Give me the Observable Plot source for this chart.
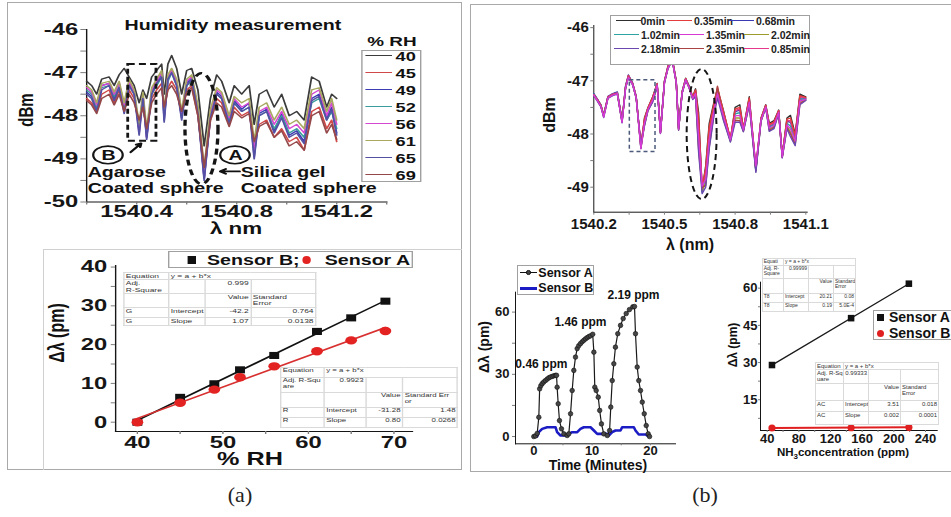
<!DOCTYPE html>
<html><head><meta charset="utf-8">
<script src="https://cdn.jsdelivr.net/npm/d3@7"></script>
<script src="https://cdn.jsdelivr.net/npm/@observablehq/plot@0.6"></script>
<style>
html,body{margin:0;padding:0;background:#fff;}
body{width:951px;height:517px;overflow:hidden;position:relative;font-family:"Liberation Sans",Arial,sans-serif;}
#root{position:absolute;left:0;top:0;width:951px;height:517px;overflow:hidden;}
.st{position:absolute;transform:scaleX(1.4);transform-origin:0 0;}
svg [aria-label$="axis tick"] path, svg [aria-label$="axis line"] line, svg [aria-label$="-axis"] .tick line, svg [aria-label$="-axis"] path.domain {stroke:#7c7c7c;}
.tbl{position:absolute;border-collapse:collapse;table-layout:fixed;background:#fff;font-family:"Liberation Sans",Arial,sans-serif;color:#333;border:0.8px solid #c4c4c4;}
.tbl td{border:0.6px solid #dadada;padding:0 1px;line-height:1.05;vertical-align:top;overflow:hidden;white-space:nowrap;}
.tbl td.r{text-align:right;}
</style></head><body>
<div id="root"></div>
<script>
// ================= DATA =================
// (a) top: humidity spectra
const rhLevels = ["40","45","49","52","56","61","65","69"];
const rhColors = ["#3c3c3c","#d04848","#3c3cb4","#3a9c9c","#d448d4","#a8a860","#5450a4","#94484a"];
const wlA = [1540.20,1540.22,1540.24,1540.26,1540.29,1540.31,1540.33,1540.35,1540.37,1540.39,1540.41,1540.425,1540.44,1540.46,1540.48,1540.50,1540.51,1540.525,1540.54,1540.56,1540.58,1540.60,1540.62,1540.645,1540.67,1540.695,1540.72,1540.74,1540.77,1540.79,1540.82,1540.85,1540.87,1540.89,1540.92,1540.95,1540.98,1541.01,1541.04,1541.07,1541.10,1541.13,1541.16,1541.18,1541.20];
const dBm40 = [-47.2,-47.3,-47.5,-47.15,-47.1,-47.3,-47.05,-46.9,-47.1,-47.3,-47.7,-47.4,-47.6,-47.1,-46.95,-46.8,-47.5,-46.8,-46.6,-46.9,-47.5,-46.95,-46.9,-47.4,-48.7,-47.6,-47.05,-47.2,-47.7,-47.3,-47.5,-47.3,-48.2,-47.5,-47.4,-47.8,-47.5,-48.0,-47.9,-48.1,-47.1,-47.2,-47.8,-47.5,-47.6];
const dBm45 = [-47.6,-47.7,-47.9,-47.5,-47.4,-47.7,-47.4,-47.9,-47.4,-47.6,-48.2,-47.7,-48.4,-47.6,-47.4,-47.25,-47.9,-47.35,-47.2,-47.4,-48.0,-47.4,-47.3,-48.0,-49.3,-48.1,-47.6,-47.7,-48.2,-47.8,-48.0,-47.9,-48.7,-48.2,-48.1,-48.5,-48.3,-48.6,-48.5,-48.8,-47.9,-47.8,-48.3,-48.1,-48.6];
const dBm49 = [-47.45,-47.55,-47.85,-47.3,-47.25,-47.6,-47.25,-47.85,-47.25,-47.45,-48.35,-47.55,-48.5,-47.45,-47.2,-47.05,-48.1,-47.1,-46.95,-47.25,-48.05,-47.25,-47.1,-47.9,-49.45,-48.0,-47.45,-47.55,-48.15,-47.65,-47.85,-47.7,-48.95,-47.95,-47.85,-48.35,-47.95,-48.45,-48.35,-48.6,-47.6,-47.5,-48.05,-47.8,-48.4];
const dBm52 = [-47.4,-47.5,-47.8,-47.35,-47.3,-47.55,-47.3,-47.8,-47.3,-47.5,-48.3,-47.6,-48.45,-47.5,-47.3,-47.1,-48.0,-47.2,-47.0,-47.3,-48.0,-47.3,-47.2,-47.9,-49.4,-48.0,-47.5,-47.6,-48.1,-47.7,-47.9,-47.8,-48.8,-48.0,-47.9,-48.3,-48.0,-48.4,-48.3,-48.5,-47.7,-47.6,-48.1,-47.9,-48.3];
const dBm56 = [-47.35,-47.45,-47.75,-47.3,-47.25,-47.5,-47.25,-47.75,-47.2,-47.45,-48.4,-47.5,-48.5,-47.4,-47.2,-47.0,-48.0,-47.1,-46.95,-47.2,-47.95,-47.2,-47.1,-47.85,-49.45,-47.95,-47.4,-47.5,-48.05,-47.6,-47.8,-47.7,-48.8,-47.9,-47.8,-48.2,-47.9,-48.3,-48.2,-48.4,-47.5,-47.4,-48.0,-47.7,-48.2];
const dBm61 = [-47.3,-47.4,-47.7,-47.25,-47.2,-47.45,-47.2,-47.7,-47.15,-47.4,-48.2,-47.45,-48.3,-47.35,-47.15,-46.95,-47.9,-47.05,-46.9,-47.15,-47.9,-47.15,-47.05,-47.75,-49.2,-47.85,-47.35,-47.45,-48.0,-47.55,-47.7,-47.6,-48.6,-47.8,-47.7,-48.1,-47.8,-48.2,-48.1,-48.3,-47.4,-47.35,-47.9,-47.6,-48.1];
const dBm65 = [-47.5,-47.6,-47.9,-47.4,-47.3,-47.65,-47.35,-47.95,-47.3,-47.5,-48.45,-47.6,-48.55,-47.5,-47.25,-47.1,-48.15,-47.15,-47.0,-47.3,-48.1,-47.3,-47.15,-47.95,-49.5,-48.05,-47.5,-47.6,-48.2,-47.7,-47.9,-47.8,-49.0,-48.0,-47.9,-48.4,-48.05,-48.5,-48.4,-48.65,-47.65,-47.55,-48.1,-47.85,-48.45];
const dBm69 = [-47.65,-47.75,-47.95,-47.6,-47.5,-47.75,-47.5,-47.9,-47.5,-47.7,-48.1,-47.8,-48.3,-47.7,-47.5,-47.35,-47.8,-47.4,-47.3,-47.5,-47.9,-47.45,-47.35,-48.0,-49.2,-48.1,-47.7,-47.8,-48.25,-47.9,-48.05,-47.95,-48.6,-48.25,-48.15,-48.5,-48.35,-48.7,-48.6,-48.8,-48.0,-47.9,-48.4,-48.2,-48.55];
const spectraA = [dBm40,dBm45,dBm49,dBm52,dBm56,dBm61,dBm65,dBm69];

// (a) bottom: shift vs humidity
const rhX = [40,45,49,52,56,61,65,69];
const shiftSensorB_RH = [0,6.4,9.9,13.5,17.2,23.4,26.9,31.2];
const shiftSensorA_RH = [0,5.0,8.4,11.6,14.4,18.3,21.1,23.5];

// (b) top: NH3 spectra over time
const bTimes = ["0min","0.35min","0.68min","0.85min","1.02min","1.35min","2.02min","2.18min","2.35min"];
const bColors = ["#2e2e2e","#e23c3c","#3a3ab4","#e8388c","#2ea3a3","#d63ad6","#9c9c2c","#6a48b0","#a84444"];
const bLegendOrder = ["0min","0.35min","0.68min","1.02min","1.35min","2.02min","2.18min","2.35min","0.85min"];
const bDrawOrder = ["0min","0.68min","1.02min","2.02min","0.85min","0.35min","2.35min","2.18min","1.35min"];
const wlB = [1540.200,1540.215,1540.230,1540.242,1540.260,1540.280,1540.300,1540.320,1540.335,1540.347,1540.365,1540.380,1540.400,1540.415,1540.430,1540.450,1540.469,1540.483,1540.500,1540.515,1540.533,1540.550,1540.560,1540.575,1540.590,1540.605,1540.620,1540.632,1540.645,1540.660,1540.675,1540.690,1540.710,1540.725,1540.750,1540.780,1540.800,1540.820,1540.835,1540.860,1540.888,1540.910,1540.930,1540.945,1540.965,1540.985,1541.000,1541.020,1541.035,1541.055,1541.075,1541.100];
const dB_t000 = [-47.25,-47.35,-47.45,-47.65,-47.3,-47.25,-47.22,-47.75,-47.1,-46.9,-47.05,-47.3,-48.25,-47.7,-47.5,-47.3,-47.05,-47.95,-47.0,-46.72,-46.57,-47.0,-47.88,-47.2,-46.95,-47.1,-47.3,-47.15,-47.6,-49.05,-48.6,-47.8,-47.4,-47.15,-47.55,-48.1,-47.5,-47.45,-47.9,-47.3,-48.65,-47.7,-47.45,-47.8,-47.75,-47.55,-48.4,-47.7,-47.65,-48.0,-47.25,-47.3];
const dB_t035 = [-47.27,-47.36,-47.47,-47.66,-47.31,-47.26,-47.24,-47.76,-47.12,-46.91,-47.06,-47.31,-48.22,-47.72,-47.51,-47.31,-47.06,-47.96,-47.02,-46.73,-46.58,-47.02,-47.89,-47.22,-46.96,-47.12,-47.31,-47.17,-47.7,-49.0,-48.65,-47.86,-47.44,-47.12,-47.57,-48.08,-47.53,-47.5,-47.9,-47.32,-48.62,-47.71,-47.46,-47.82,-47.77,-47.56,-48.41,-47.72,-47.7,-48.03,-47.28,-47.31];
const dB_t068 = [-47.24,-47.34,-47.46,-47.64,-47.29,-47.24,-47.21,-47.74,-47.09,-46.89,-47.04,-47.29,-48.27,-47.75,-47.52,-47.33,-47.07,-47.97,-47.01,-46.74,-46.6,-47.01,-47.9,-47.21,-46.97,-47.11,-47.32,-47.2,-47.85,-49.08,-48.72,-47.95,-47.48,-47.18,-47.6,-48.12,-47.58,-47.55,-47.92,-47.35,-48.68,-47.72,-47.47,-47.85,-47.8,-47.57,-48.42,-47.76,-47.78,-48.07,-47.32,-47.33];
const dB_t085 = [-47.26,-47.35,-47.46,-47.65,-47.3,-47.25,-47.23,-47.75,-47.11,-46.9,-47.05,-47.3,-48.2,-47.74,-47.51,-47.32,-47.06,-47.96,-47.01,-46.73,-46.59,-47.01,-47.89,-47.21,-46.96,-47.11,-47.31,-47.19,-47.8,-49.02,-48.7,-47.92,-47.47,-47.16,-47.59,-48.1,-47.56,-47.53,-47.91,-47.34,-48.66,-47.71,-47.46,-47.84,-47.79,-47.56,-48.41,-47.75,-47.75,-48.05,-47.3,-47.32];
const dB_t102 = [-47.25,-47.36,-47.47,-47.67,-47.31,-47.26,-47.23,-47.77,-47.12,-46.92,-47.06,-47.31,-48.24,-47.78,-47.53,-47.35,-47.08,-47.97,-47.02,-46.75,-46.6,-47.02,-47.9,-47.22,-46.97,-47.12,-47.32,-47.22,-47.95,-49.1,-48.8,-48.02,-47.52,-47.2,-47.63,-48.13,-47.62,-47.6,-47.93,-47.37,-48.7,-47.73,-47.48,-47.87,-47.82,-47.58,-48.42,-47.8,-47.85,-48.1,-47.35,-47.34];
const dB_t135 = [-47.27,-47.37,-47.48,-47.68,-47.32,-47.27,-47.24,-47.78,-47.13,-46.93,-47.07,-47.32,-48.28,-47.8,-47.54,-47.36,-47.08,-47.98,-47.03,-46.76,-46.61,-47.03,-47.91,-47.23,-46.98,-47.13,-47.33,-47.24,-48.05,-48.98,-48.85,-48.1,-47.56,-47.24,-47.66,-48.11,-47.66,-47.65,-47.92,-47.4,-48.6,-47.74,-47.49,-47.89,-47.84,-47.59,-48.43,-47.83,-47.9,-48.13,-47.38,-47.35];
const dB_t202 = [-47.26,-47.36,-47.47,-47.66,-47.31,-47.26,-47.24,-47.76,-47.12,-46.92,-47.07,-47.31,-48.22,-47.82,-47.55,-47.38,-47.09,-47.98,-47.03,-46.76,-46.61,-47.03,-47.92,-47.23,-46.98,-47.13,-47.34,-47.27,-48.2,-49.06,-48.92,-48.18,-47.6,-47.27,-47.7,-48.14,-47.7,-47.7,-47.94,-47.42,-48.67,-47.75,-47.5,-47.91,-47.86,-47.6,-48.44,-47.86,-47.96,-48.17,-47.41,-47.36];
const dB_t218 = [-47.28,-47.38,-47.49,-47.69,-47.33,-47.28,-47.25,-47.79,-47.14,-46.94,-47.08,-47.33,-48.2,-47.85,-47.56,-47.4,-47.1,-47.99,-47.04,-46.77,-46.62,-47.04,-47.93,-47.24,-46.99,-47.14,-47.35,-47.3,-48.35,-49.12,-49.0,-48.28,-47.66,-47.32,-47.74,-48.15,-47.78,-47.78,-47.96,-47.45,-48.72,-47.76,-47.51,-47.95,-47.9,-47.61,-48.45,-47.9,-48.05,-48.22,-47.45,-47.37];
const dB_t235 = [-47.27,-47.37,-47.48,-47.67,-47.32,-47.27,-47.24,-47.77,-47.13,-46.93,-47.07,-47.32,-48.26,-47.84,-47.55,-47.39,-47.09,-47.98,-47.03,-46.76,-46.61,-47.03,-47.92,-47.23,-46.98,-47.13,-47.34,-47.29,-48.3,-49.0,-48.97,-48.24,-47.63,-47.1,-47.72,-48.12,-47.74,-47.75,-47.95,-47.44,-48.69,-47.75,-47.5,-47.93,-47.88,-47.6,-48.44,-47.88,-48.0,-48.2,-47.43,-47.36];
const spectraB = [dB_t000,dB_t035,dB_t068,dB_t085,dB_t102,dB_t135,dB_t202,dB_t218,dB_t235];

// (b) bottom left: time response
const timeA = [0,0.3,0.58,0.86,1.0,1.2,1.44,1.7,2.0,2.3,2.57,2.85,3.16,3.45,3.72,3.9,4.0,4.18,4.4,4.75,5.15,5.72,6.0,6.3,6.58,6.86,7.15,7.44,7.7,8.0,8.3,8.58,8.87,9.16,9.45,9.73,10.1,10.3,10.46,10.7,11.05,11.3,11.6,12.0,12.6,13.0,13.2,13.45,13.72,14.0,14.4,14.87,15.33,15.85,16.4,16.97,17.27,17.44,17.73,18.0,18.3,18.6,18.94,19.28,19.62,19.85];
const shiftA_time = [0,0.3,1.5,9.3,23,24.5,25.5,26.3,27,27.7,28.3,28.7,29,29.3,29.5,29.5,23.8,15.8,7.7,3.7,1.3,0.5,1.3,11,22.2,31.9,38.3,42.4,43.8,44.8,45.7,46.4,47.1,47.7,48.2,48.6,49.3,40.7,23.8,22.2,19,12.6,6.1,1.3,0.5,2.9,14.2,27,35.1,43.1,49.6,53.6,56.9,59.3,61.2,62.5,62.7,49.6,33.5,27,22.2,16.6,11,5.3,1.3,0];
const timeB = [0,0.57,0.86,1.43,2.29,3.72,4.0,4.58,5.72,6.0,6.58,7.44,8.0,8.58,9.73,10.3,10.87,12.58,12.87,13.45,14.0,14.87,15.16,17.16,17.44,18.0,19.15,19.73];
const shiftB_time = [0,0,2.1,3.7,4.5,4.5,2.1,0.5,0.5,1.3,2.1,2.1,3.7,4.5,4.5,2.9,1.3,1.3,0.5,2.1,2.9,2.9,4.5,4.5,2.9,1.0,1.0,0];
const pulseLabels = ["0.46 ppm","1.46 ppm","2.19 ppm"];
const pulseLabelT = [1.3,8.0,17.1];
const pulseLabelV = [35.1,55.2,68.0];

// (b) bottom right: shift vs NH3 concentration
const nh3Conc = [46,146,219];
const shiftA_nh3 = [29.0,47.9,61.8];
const shiftB_nh3 = [3.6,3.7,3.9];

// tick values & labels
const aTopXTicks = [1540.2,1540.4,1540.6,1540.8,1541.0,1541.2,1541.4];
const aTopXTickLabels = ["","1540.4","","1540.8","","1541.2",""];
const aTopYTicks = [-50,-49.5,-49,-48.5,-48,-47.5,-47,-46.5,-46];
const aTopYTickLabels = ["-50","","-49","","-48","","-47","","-46"];
const aBotXTicks = [40,45,50,55,60,65,70];
const aBotXTickLabels = ["40","","50","","60","","70"];
const aBotYTicks = [0,5,10,15,20,25,30,35,40];
const aBotYTickLabels = ["0","","10","","20","","30","","40"];
const bTopXTicks = [1540.2,1540.35,1540.5,1540.65,1540.8,1540.95,1541.1];
const bTopXTickLabels = ["1540.2","","1540.5","","1540.8","","1541.1"];
const bTopYTicks = [-49,-48.5,-48,-47.5,-47,-46.5,-46];
const bTopYTickLabels = ["-49","","-48","","-47","","-46"];
const bTimeXTicks = [0,5,10,15,20];
const bTimeXTickLabels = ["0","","10","","20"];
const bTimeYTicks = [0,15,30,45,60];
const bTimeYTickLabels = ["0","","30","","60"];
const bNh3XTicks = [40,60,80,100,120,140,160,180,200,220,240];
const bNh3XTickLabels = ["40","","80","","120","","160","","200","","240"];
const bNh3YTicks = [7.5,15,22.5,30,37.5,45,52.5,60];
const bNh3YTickLabels = ["","15","","30","","45","","60"];

// annotations (data units)
const annRectA = [{x1:1540.367,x2:1540.48,y1:-48.59,y2:-46.81}];
const annEllipsesA = [
  {cx:1540.662,cy:-48.31,rx:0.066,ry:1.287,w:2.4,dash:"6,4"},
  {cx:1540.288,cy:-48.92,rx:0.059,ry:0.205,w:1.6,dash:null},
  {cx:1540.796,cy:-48.92,rx:0.059,ry:0.205,w:1.6,dash:null}
];
const annLettersA = [{x:1540.288,y:-48.92,t:"B"},{x:1540.796,y:-48.92,t:"A"}];
const annTextsA = [
  {x:1540.204,y:-49.316,t:"Agarose"},{x:1540.204,y:-49.687,t:"Coated sphere"},
  {x:1540.816,y:-49.316,t:"Silica gel"},{x:1540.816,y:-49.687,t:"Coated sphere"}
];
const annArrowsA = [
  {x1:1540.376,y1:-48.845,x2:1540.418,y2:-48.64},
  {x1:1540.812,y1:-49.29,x2:1540.734,y2:-49.29}
];
const annRectB = [{x1:1540.353,x2:1540.462,y1:-48.34,y2:-46.99}];
const annEllipsesB = [{cx:1540.66,cy:-48.01,rx:0.0636,ry:1.223,w:2,dash:"6,4"}];

// fit tables (text); {t, span} merges columns
const tableA1 = [["Equation",{t:"y = a + b*x",span:3}],["Adj.<br>R-Square","","0.999",""],["","","Value","Standard<br>Error"],["G","Intercept","-42.2","0.764"],["G","Slope","1.07","0.0138"]];
const tableA2 = [["Equation",{t:"y = a + b*x",span:3}],["Adj. R-Squ<br>are","0.9923","",""],["","","Value","Standard Err<br>or"],["R","Intercept","-31.28","1.48"],["R","Slope","0.80","0.0268"]];
const tableB1 = [["Equati",{t:"y = a + b*x",span:3}],["Adj. R-<br>Square","0.99999","",""],["","","Value","Standard<br>Error"],["T8","Intercept","20.21","0.08"],["T8","Slope","0.19","5.0E-4"]];
const tableB2 = [["Equation",{t:"y = a + b*x",span:3}],["Adj. R-Sq<br>uare","0.99333","",""],["","","Value","Standard<br>Error"],["AC","Intercept","3.51","0.018"],["AC","Slope","0.002","0.0001"]];

// ================= HELPERS =================
const FONT = '"Liberation Sans", Arial, Helvetica, sans-serif';
const root = document.getElementById("root");
function el(parent, x, y, w, h, css) {
  const d = document.createElement("div");
  d.style.cssText = `position:absolute;left:${x}px;top:${y}px;width:${w}px;height:${h}px;box-sizing:border-box;${css||""}`;
  parent.appendChild(d); return d;
}
function stretchDiv(x, y, w, h) {
  const d = el(root, x, y, w, h, "");
  d.className = "st"; return d;
}
function label(parent, html, x, y, o = {}) {
  const d = document.createElement("div");
  d.innerHTML = html;
  const a = o.anchor || "middle";
  const tx = a === "start" ? "0" : a === "end" ? "-100%" : "-50%";
  d.style.cssText = `position:absolute;left:${x}px;top:${y}px;white-space:nowrap;line-height:1;font-family:${o.family||FONT};font-size:${o.size||12}px;font-weight:${o.weight||"bold"};color:${o.color||"#111"};transform:translate(${tx},-50%)${o.rotate?` rotate(${o.rotate}deg)`:""};`;
  parent.appendChild(d); return d;
}
function fmtFrom(ticks, labels) {
  const m = new Map(ticks.map((t, i) => [(+t).toFixed(3), labels[i]]));
  return d => { const v = m.get((+d).toFixed(3)); return v === undefined ? "" : v; };
}
function style(size) {
  return {fontFamily: FONT, fontSize: size + "px", fontWeight: "bold", color: "#161616", background: "transparent", overflow: "visible"};
}
function place(parent, svg, x, y) {
  svg.style.position = "absolute"; svg.style.left = x + "px"; svg.style.top = y + "px"; svg.style.maxWidth = "none";
  parent.appendChild(svg);
}
function addEllipses(plot, list) {
  const sx = plot.scale("x"), sy = plot.scale("y");
  const g = d3.select(plot).append("g");
  list.forEach(e => {
    const cx = sx.apply(e.cx), cy = sy.apply(e.cy);
    const rx = Math.abs(sx.apply(e.cx + e.rx) - cx), ry = Math.abs(sy.apply(e.cy + e.ry) - cy);
    const s = g.append("ellipse").attr("cx", cx).attr("cy", cy).attr("rx", rx).attr("ry", ry)
      .attr("fill", "none").attr("stroke", "#151515").attr("stroke-width", e.w);
    if (e.dash) s.attr("stroke-dasharray", e.dash);
  });
}
function table(parent, rows, x, y, colW, rowH, size) {
  const t = document.createElement("table");
  t.className = "tbl";
  t.style.left = x + "px"; t.style.top = y + "px";
  t.style.width = colW.reduce((a, b) => a + b, 0) + "px";
  t.style.fontSize = size + "px";
  const cg = document.createElement("colgroup");
  colW.forEach(w => { const c = document.createElement("col"); c.style.width = w + "px"; cg.appendChild(c); });
  t.appendChild(cg);
  rows.forEach((r, ri) => {
    const tr = document.createElement("tr");
    tr.style.height = rowH[ri] + "px";
    let ci = 0;
    r.forEach(c => {
      const td = document.createElement("td");
      const txt = typeof c === "string" ? c : c.t;
      const span = typeof c === "string" ? 1 : c.span;
      td.innerHTML = txt;
      if (span > 1) td.colSpan = span;
      else if ((ci >= 2 && !(ri === 2 && ci === 3)) || (ci === 1 && ri === 1 && /^[0-9.]/.test(txt))) td.className = "r";
      tr.appendChild(td);
      ci += span;
    });
    t.appendChild(tr);
  });
  parent.appendChild(t);
}

// ================= FRAMES =================
el(root, 7, 2, 455, 468, "border:1px solid #a9a9a9;");
el(root, 43, 249, 419, 221, "border-top:1px solid #d0d0d0;border-left:1px solid #d0d0d0;");
el(root, 470, 4, 500, 468, "border:1px solid #a9a9a9;");

// ================= (a) TOP =================
const aTop = stretchDiv(0, 0, 330, 250);
const pAT = Plot.plot({
  width: 330, height: 250,
  marginLeft: 61.4, marginRight: 54.3, marginTop: 29, marginBottom: 48.5,
  x: {domain: [1540.2, 1541.4], ticks: aTopXTicks, tickFormat: fmtFrom(aTopXTicks, aTopXTickLabels), tickSize: 3, tickPadding: 0, line: true, label: null},
  y: {domain: [-50, -46], ticks: aTopYTicks, tickFormat: fmtFrom(aTopYTicks, aTopYTickLabels), tickSize: 4, tickPadding: 2, line: true, label: null},
  style: style(17),
  marks: [
    ...spectraA.map((vals, k) => Plot.line(wlA.map((w, i) => ({w, v: vals[i]})), {x: "w", y: "v", stroke: rhColors[k], strokeWidth: 1.25})),
    Plot.rect(annRectA, {x1: "x1", x2: "x2", y1: "y1", y2: "y2", fill: "none", stroke: "#151515", strokeWidth: 2, strokeDasharray: "5,3"}),
    Plot.text(annLettersA, {x: "x", y: "y", text: "t", fontSize: 14, fill: "#111"}),
    Plot.text(annTextsA, {x: "x", y: "y", text: "t", fontSize: 14, textAnchor: "start", fill: "#111"}),
    Plot.arrow(annArrowsA, {x1: "x1", y1: "y1", x2: "x2", y2: "y2", stroke: "#111", strokeWidth: 1.8, headLength: 6})
  ]
});
addEllipses(pAT, annEllipsesA);
place(aTop, pAT, 0, 0);
label(aTop, "Humidity measurement", 166.4, 25, {size: 14});
label(aTop, "dBm", 17.9, 110, {size: 15, rotate: -90});
label(aTop, "λ nm", 168.6, 229, {size: 16});
label(aTop, "% RH", 280, 41.5, {size: 13.5});
el(aTop, 257.9, 50, 43.5, 132, "border:1px solid #a0a0a0;background:#fff;");
rhLevels.forEach((lv, i) => {
  const y = 56 + 17 * i;
  el(aTop, 260.7, y - 0.75, 19.3, 0, `border-top:1.5px solid ${rhColors[i]};`);
  label(aTop, lv, 297, y, {size: 13, anchor: "end"});
});

// ================= (a) BOTTOM =================
const aBot = stretchDiv(0, 240, 330, 240);
const pAB = Plot.plot({
  width: 330, height: 240,
  marginLeft: 82.1, marginRight: 35.9, marginTop: 25, marginBottom: 49,
  x: {domain: [37.46, 72.16], ticks: aBotXTicks, tickFormat: fmtFrom(aBotXTicks, aBotXTickLabels), tickSize: 3, tickPadding: 1, line: true, label: null},
  y: {domain: [-2.4, 40.4], ticks: aBotYTicks, tickFormat: fmtFrom(aBotYTicks, aBotYTickLabels), tickSize: 3, tickPadding: 3, line: true, label: null},
  style: style(17),
  marks: [
    Plot.linearRegressionY(rhX.map((x, i) => ({x, y: shiftSensorB_RH[i]})), {x: "x", y: "y", stroke: "#111", strokeWidth: 1.5, ci: 0}),
    Plot.dot(rhX.map((x, i) => ({x, y: shiftSensorB_RH[i]})), {x: "x", y: "y", symbol: "square", r: 4, fill: "#111", stroke: "none"}),
    Plot.linearRegressionY(rhX.map((x, i) => ({x, y: shiftSensorA_RH[i]})), {x: "x", y: "y", stroke: "#d83030", strokeWidth: 1.5, ci: 0}),
    Plot.dot(rhX.map((x, i) => ({x, y: shiftSensorA_RH[i]})), {x: "x", y: "y", r: 4.2, fill: "#e32222", stroke: "none"})
  ]
});
place(aBot, pAB, 0, 0);
label(aBot, "Δλ (pm)", 40.5, 93, {size: 16, rotate: -90});
label(aBot, "% RH", 178.6, 218.5, {size: 18});
el(aBot, 120, 10.7, 175, 17.6, "border:1px solid #a0a0a0;background:#fff;");
el(aBot, 134.3, 15.5, 5.6, 8, "background:#111;");
label(aBot, "Sensor B;", 147.9, 19.5, {size: 14, anchor: "start"});
el(aBot, 216.3, 15.5, 6, 8, "background:#e32222;border-radius:50%;");
label(aBot, "Sensor A", 232, 19.5, {size: 14, anchor: "start"});
table(aBot, tableA1, 87.9, 31.7, [32.1, 25.7, 32.9, 46.4], [7.7, 12.3, 13.3, 10, 8.3], 6);
table(aBot, tableA2, 200, 126.7, [31, 29.7, 26.4, 39.3], [10, 15, 15, 10, 10], 5.6);

// ================= (b) TOP =================
const bTop = el(root, 470, 0, 481, 260, "");
const pBT = Plot.plot({
  width: 481, height: 260,
  marginLeft: 123.3, marginRight: 144.3, marginTop: 25, marginBottom: 48.3,
  x: {domain: [1540.2, 1541.106], ticks: bTopXTicks, tickFormat: fmtFrom(bTopXTicks, bTopXTickLabels), tickSize: 3, tickPadding: 3, line: true, label: null},
  y: {domain: [-49.47, -45.96], ticks: bTopYTicks, tickFormat: fmtFrom(bTopYTicks, bTopYTickLabels), tickSize: 3, tickPadding: 2, line: true, label: null},
  style: style(15),
  marks: [
    ...bDrawOrder.map(name => {
      const k = bTimes.indexOf(name);
      return Plot.line(wlB.map((w, i) => ({w, v: spectraB[k][i]})), {x: "w", y: "v", stroke: bColors[k], strokeWidth: 1.4});
    }),
    Plot.rect(annRectB, {x1: "x1", x2: "x2", y1: "y1", y2: "y2", fill: "none", stroke: "#4c5a7c", strokeWidth: 1.5, strokeDasharray: "4,3"})
  ]
});
addEllipses(pBT, annEllipsesB);
place(bTop, pBT, 0, 0);
label(root, "dBm", 550, 114.5, {size: 16, rotate: -90});
label(root, "λ (nm)", 690, 245, {size: 16});
el(root, 610, 15, 200, 50, "border:1px solid #a0a0a0;background:#fff;");
const legendEnds = [[665, 733, 795], [680, 745, 810], [680, 745, 810]];
const legendRowsY = [20.5, 34.5, 48.5];
bLegendOrder.forEach((name, i) => {
  const r = Math.floor(i / 3), c = i % 3;
  const k = bTimes.indexOf(name);
  const end = legendEnds[r][c];
  const w = name.length * 5.6;
  el(root, end - w - 27, legendRowsY[r] - 0.7, 25, 0, `border-top:1.4px solid ${bColors[k]};`);
  label(root, name, end, legendRowsY[r], {size: 10.5, anchor: "end", color: "#222"});
});

// ================= (b) BOTTOM LEFT =================
const bBL = el(root, 470, 250, 215, 220, "");
const pBL = Plot.plot({
  width: 215, height: 220,
  marginLeft: 45, marginRight: 10, marginTop: 41.7, marginBottom: 26.7,
  x: {domain: [-3.14, 24.3], ticks: bTimeXTicks, tickFormat: fmtFrom(bTimeXTicks, bTimeXTickLabels), tickSize: 2, tickPadding: 0, line: true, label: null},
  y: {domain: [-3.5, 69.6], ticks: bTimeYTicks, tickFormat: fmtFrom(bTimeYTicks, bTimeYTickLabels), tickSize: 3, tickPadding: 3, line: true, label: null},
  style: style(13),
  marks: [
    Plot.line(timeB.map((t, i) => ({t, v: shiftB_time[i]})), {x: "t", y: "v", stroke: "#1c1cc4", strokeWidth: 2.6}),
    Plot.line(timeA.map((t, i) => ({t, v: shiftA_time[i]})), {x: "t", y: "v", stroke: "#1a1a1a", strokeWidth: 1.2}),
    Plot.dot(timeA.map((t, i) => ({t, v: shiftA_time[i]})), {x: "t", y: "v", r: 2.3, fill: "#454545", stroke: "#111", strokeWidth: 0.6}),
    Plot.text(pulseLabels.map((s, i) => ({s, t: pulseLabelT[i], v: pulseLabelV[i]})), {x: "t", y: "v", text: "s", fontSize: 12, fill: "#111"})
  ]
});
place(bBL, pBL, 0, 0);
label(root, "Δλ (pm)", 484, 347, {size: 14, rotate: -90});
label(root, "Time (Minutes)", 598, 465, {size: 14});
el(root, 516.7, 265, 77, 29.5, "border:1px solid #a0a0a0;background:#fff;");
el(root, 520, 272, 16.7, 0, "border-top:1.3px solid #111;");
el(root, 526, 270.4, 4.6, 4.6, "background:#444;border-radius:50%;border:0.6px solid #111;");
label(root, "Sensor A", 538.3, 272.7, {size: 12.5, anchor: "start"});
el(root, 520, 286.5, 16.7, 0, "border-top:3px solid #1c1cc4;");
label(root, "Sensor B", 538.3, 288, {size: 12.5, anchor: "start"});

// ================= (b) BOTTOM RIGHT =================
const bBR = el(root, 700, 250, 251, 220, "");
const pBR = Plot.plot({
  width: 251, height: 220,
  marginLeft: 60, marginRight: 14.3, marginTop: 31.7, marginBottom: 40,
  x: {domain: [31.5, 254.8], ticks: bNh3XTicks, tickFormat: fmtFrom(bNh3XTicks, bNh3XTickLabels), tickSize: 2, tickPadding: 1, line: true, label: null},
  y: {domain: [2.6, 62.4], ticks: bNh3YTicks, tickFormat: fmtFrom(bNh3YTicks, bNh3YTickLabels), tickSize: 2, tickPadding: 1, line: true, label: null},
  style: style(13),
  marks: [
    Plot.linearRegressionY(nh3Conc.map((x, i) => ({x, y: shiftA_nh3[i]})), {x: "x", y: "y", stroke: "#1a1a1a", strokeWidth: 1.3, ci: 0}),
    Plot.dot(nh3Conc.map((x, i) => ({x, y: shiftA_nh3[i]})), {x: "x", y: "y", symbol: "square", r: 3.7, fill: "#111", stroke: "none"}),
    Plot.linearRegressionY(nh3Conc.map((x, i) => ({x, y: shiftB_nh3[i]})), {x: "x", y: "y", stroke: "#e02020", strokeWidth: 2, ci: 0}),
    Plot.dot(nh3Conc.map((x, i) => ({x, y: shiftB_nh3[i]})), {x: "x", y: "y", r: 3.6, fill: "#e02020", stroke: "none"})
  ]
});
place(bBR, pBR, 0, 0);
table(root, tableB1, 761.7, 258.3, [21.3, 25, 25, 22], [5.7, 13.7, 15, 9, 8.3], 5);
table(root, tableB2, 815, 361.7, [28, 25, 32, 38], [7.3, 11, 17, 11, 13.7], 6);
label(root, "Δλ (pm)", 733, 345, {size: 12, rotate: -90});
label(root, "NH<sub style='font-size:8px;vertical-align:-3px'>3</sub>concentration (ppm)", 843, 454, {size: 11.5});
el(root, 873, 310, 90, 30, "border:1px solid #a0a0a0;background:#fff;");
el(root, 876.5, 313.5, 7, 7, "background:#111;");
label(root, "Sensor A", 889, 317, {size: 14, anchor: "start"});
el(root, 876.5, 329.5, 7, 7, "background:#e02020;border-radius:50%;");
label(root, "Sensor B", 889, 333, {size: 14, anchor: "start"});

// ================= PANEL LETTERS =================
label(root, "(a)", 240, 495, {size: 22, weight: "normal", family: '"Liberation Serif", "Times New Roman", serif', color: "#222"});
label(root, "(b)", 705, 495, {size: 22, weight: "normal", family: '"Liberation Serif", "Times New Roman", serif', color: "#222"});
</script></body></html>
